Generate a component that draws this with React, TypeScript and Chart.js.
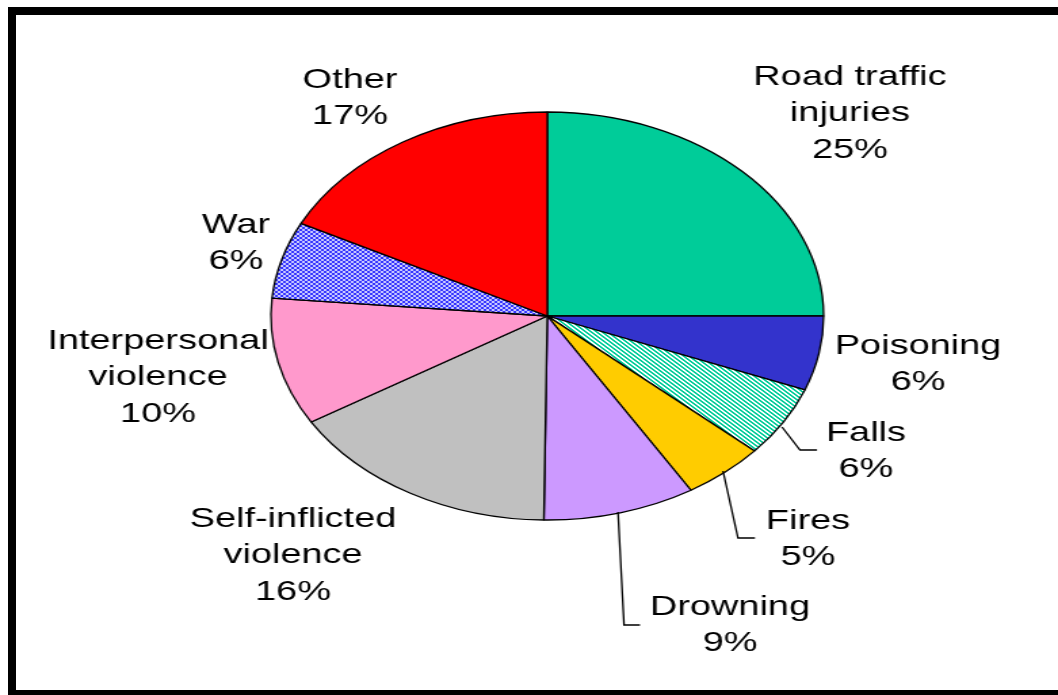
import React, { useEffect, useRef } from "react";
import { Chart, registerables } from "chart.js";

Chart.register(...registerables);

// ---- data ----
const categories = [
  "Road traffic injuries",
  "Poisoning",
  "Falls",
  "Fires",
  "Drowning",
  "Self-inflicted violence",
  "Interpersonal violence",
  "War",
  "Other",
];
const sliceShares = [25, 5.9, 5.6, 4.8, 8.9, 16.1, 10.1, 6.1, 17.5];
const percentLabels = ["25%", "6%", "6%", "5%", "9%", "16%", "10%", "6%", "17%"];
const labelNameLines = [
  ["Road traffic", "injuries"],
  ["Poisoning"],
  ["Falls"],
  ["Fires"],
  ["Drowning"],
  ["Self-inflicted", "violence"],
  ["Interpersonal", "violence"],
  ["War"],
  ["Other"],
];

// ---- layout / style (screen pixels) ----
const STRETCH = 1058 / 781; // horizontal stretch of the whole picture
const LOGICAL_W = 781;
const LOGICAL_H = 695;
const labelAnchors = [
  [850, 77],
  [918, 346],
  [866, 433],
  [808, 521],
  [730, 607],
  [293, 519],
  [158, 341],
  [236, 225],
  [350, 80],
];
const leaderLines = [
  [[782, 427], [800, 450], [817, 450]],
  [[723, 471], [738, 538], [755, 538]],
  [[618, 512], [624, 625], [640, 625]],
];
const LINE_GAP = 36.5;

function stripePattern(ctx: CanvasRenderingContext2D, fg: string, bg: string) {
  const c = document.createElement("canvas");
  c.width = 4;
  c.height = 4;
  const x = c.getContext("2d")!;
  x.fillStyle = bg;
  x.fillRect(0, 0, 4, 4);
  x.fillStyle = fg;
  for (let i = 0; i < 4; i++) {
    x.fillRect(i, i, 1, 1);
    x.fillRect((i + 1) % 4, i, 1, 1);
  }
  return ctx.createPattern(c, "repeat")!;
}

function crossPattern(ctx: CanvasRenderingContext2D, fg: string, bg: string) {
  const c = document.createElement("canvas");
  c.width = 4;
  c.height = 4;
  const x = c.getContext("2d")!;
  x.fillStyle = bg;
  x.fillRect(0, 0, 4, 4);
  x.fillStyle = fg;
  for (let i = 0; i < 4; i++) {
    x.fillRect(i, i, 1, 1);
    x.fillRect(3 - i, i, 1, 1);
  }
  return ctx.createPattern(c, "repeat")!;
}

const labelPlugin = {
  id: "sliceLabels",
  afterDatasetsDraw(chart: any) {
    const ctx: CanvasRenderingContext2D = chart.ctx;
    ctx.save();
    // leader lines
    ctx.strokeStyle = "#000";
    ctx.lineWidth = 1.3;
    leaderLines.forEach((pts) => {
      ctx.beginPath();
      pts.forEach(([sx, sy], i) => {
        const lx = sx / STRETCH;
        if (i === 0) ctx.moveTo(lx, sy);
        else ctx.lineTo(lx, sy);
      });
      ctx.stroke();
    });
    // labels
    ctx.fillStyle = "#000";
    ctx.font = "28px 'Liberation Sans', Arial, sans-serif";
    ctx.textAlign = "center";
    ctx.textBaseline = "middle";
    categories.forEach((_, i) => {
      const [sx, sy] = labelAnchors[i];
      const lines = [...labelNameLines[i], percentLabels[i]];
      lines.forEach((t, k) => {
        ctx.fillText(t, sx / STRETCH, sy + k * LINE_GAP);
      });
    });
    ctx.restore();
  },
};

export default function App() {
  const canvasRef = useRef<HTMLCanvasElement | null>(null);

  useEffect(() => {
    const canvas = canvasRef.current!;
    const ctx = canvas.getContext("2d")!;
    const colors: any[] = [
      "#00CC99",
      "#3333CC",
      stripePattern(ctx, "#00CC99", "#FFFFFF"),
      "#FFCC00",
      "#CC99FF",
      "#C0C0C0",
      "#FF99CC",
      crossPattern(ctx, "#3333FF", "#C8C8FF"),
      "#FF0000",
    ];
    const chart = new Chart(canvas, {
      type: "pie",
      data: {
        labels: categories,
        datasets: [
          {
            data: sliceShares,
            backgroundColor: colors,
            borderColor: "#000000",
            borderWidth: 1.3,
          },
        ],
      },
      options: {
        responsive: false,
        animation: false,
        devicePixelRatio: 1,
        radius: 204,
        layout: { padding: { left: 27, right: 0, top: 0, bottom: 63 } },
        plugins: {
          legend: { display: false },
          tooltip: { enabled: false },
        },
      } as any,
      plugins: [labelPlugin],
    });
    return () => chart.destroy();
  }, []);

  return (
    <div
      style={{
        position: "fixed",
        left: 0,
        top: 0,
        width: 1058,
        height: 695,
        overflow: "hidden",
        background: "#fff",
      }}
    >
      <div
        style={{
          position: "absolute",
          left: 8,
          top: 7,
          width: 1120,
          height: 691,
          boxSizing: "border-box",
          border: "8px solid #000",
        }}
      />
      <div
        style={{
          position: "absolute",
          left: 0,
          top: 0,
          width: LOGICAL_W,
          height: LOGICAL_H,
          transform: `scaleX(${STRETCH})`,
          transformOrigin: "0 0",
        }}
      >
        <canvas ref={canvasRef} width={LOGICAL_W} height={LOGICAL_H} />
      </div>
    </div>
  );
}
